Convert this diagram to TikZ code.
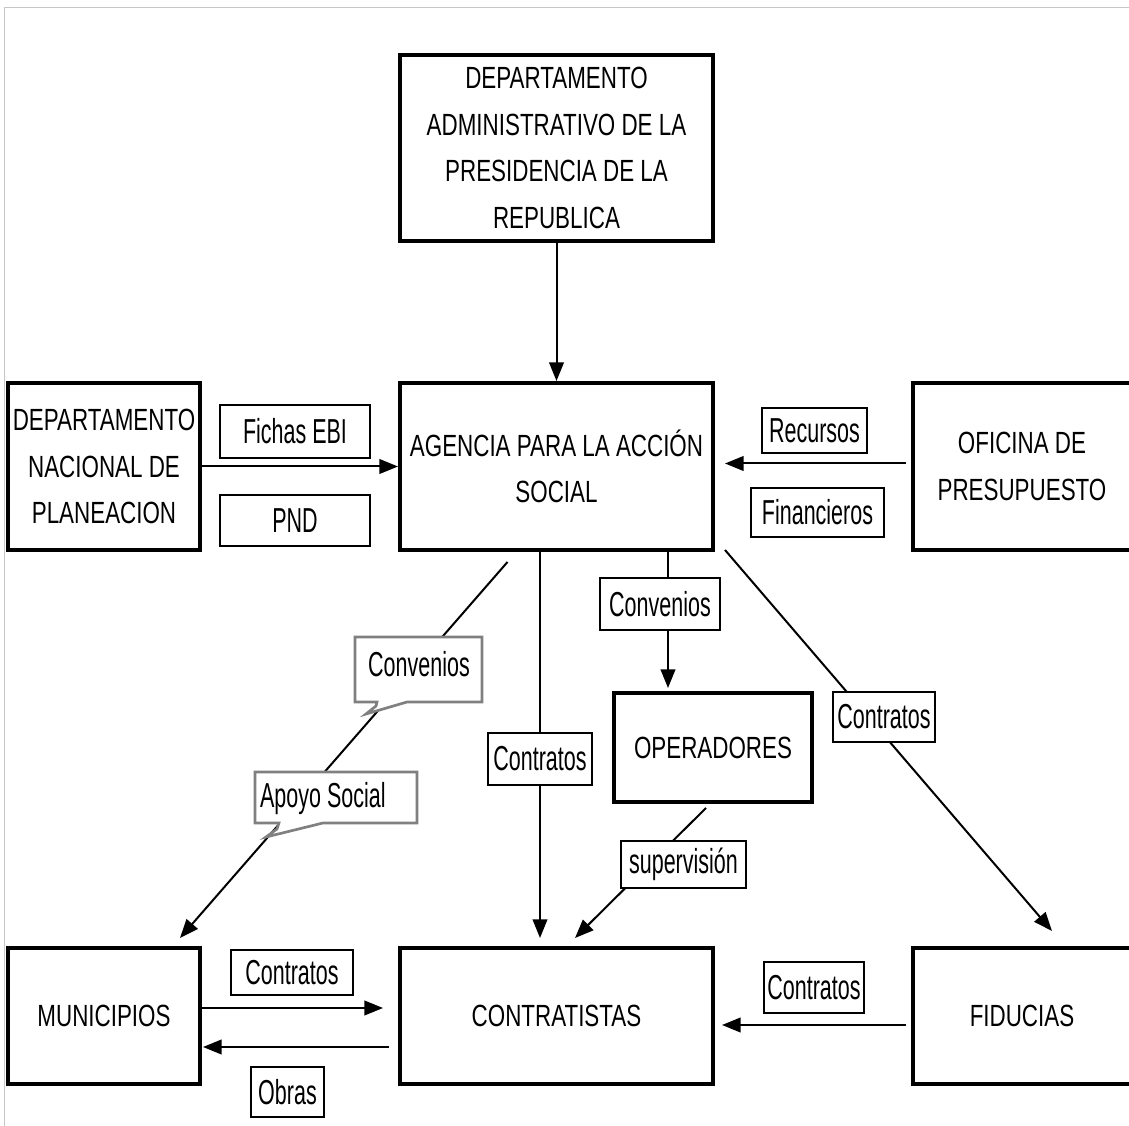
\documentclass[tikz,border=0pt]{standalone}
\usepackage{fontspec}
\setmainfont{Liberation Sans}
\newfontfamily\cajafont{Liberation Sans}[FakeStretch=0.73]
\newfontfamily\etqfont{Liberation Sans}[FakeStretch=0.62]
\usetikzlibrary{arrows.meta,calc}

\tikzset{
	caja/.style={draw,line width=3pt,inner sep=2pt,align=center,font=\cajafont\fontsize{23}{35}\selectfont},
	etiqueta/.style={draw,fill=white,line width=1.2pt,inner sep=1pt,font=\etqfont\fontsize{26}{30}\selectfont},
	flecha/.style={-{Triangle[length=14pt,width=11pt]},line width=1.5pt},
	globo/.style={draw=black!50,fill=white,line width=2pt,line join=miter},
}

\begin{document}
\begin{tikzpicture}[x=0.75pt,y=-0.75pt]
		\clip (0,0) rectangle (1129,1126);
		\fill[white] (0,0) rectangle (1129,1126);
		\draw[black!22,line width=0.75pt] (4,1126) -- (4,8) -- (1129,8);

		% cajas principales
		\node[caja,minimum width=234.75pt,minimum height=139.5pt] (dapr) at (556.5,148)
			{DEPARTAMENTO\\ADMINISTRATIVO DE LA\\PRESIDENCIA DE LA\\REPUBLICA};
		\node[caja,minimum width=234.75pt,minimum height=125.25pt] (agencia) at (556.5,466.5)
			{AGENCIA PARA LA ACCIÓN\\SOCIAL};
		\node[caja,minimum width=144pt,minimum height=125.25pt] (dnp) at (104,466.5)
			{DEPARTAMENTO\\NACIONAL DE\\PLANEACION};
		\node[caja,minimum width=163.5pt,minimum height=125.25pt] (oficina) at (1022,466.5)
			{OFICINA DE\\PRESUPUESTO};
		\node[caja,minimum width=148.5pt,minimum height=81.75pt] (operadores) at (713,747.5) {OPERADORES};
		\node[caja,minimum width=144pt,minimum height=102pt] (municipios) at (104,1016) {MUNICIPIOS};
		\node[caja,minimum width=234.75pt,minimum height=102pt] (contratistas) at (556.5,1016) {CONTRATISTAS};
		\node[caja,minimum width=163.5pt,minimum height=102pt] (fiducias) at (1022,1016) {FIDUCIAS};

		% flechas
		\draw[flecha] (dapr) -- (agencia);
		\draw[flecha] (dnp.east) -- (agencia.west);
		\draw[flecha] ($(oficina.west)+(-5,-3)$) -- ($(agencia.east)+(10,-3)$);
		\draw[flecha] ($(agencia.south)+(-49,10)$) -- ($(municipios.north)+(76,-8)$);
		\draw[flecha] ($(agencia.south)+(-16.5,0)$) -- ($(contratistas.north)+(-16.5,-8)$);
		\draw[flecha] ($(agencia.south)+(111.5,0)$) -- ($(operadores.north)+(-45,-3)$);
		\draw[flecha] ($(agencia.south east)+(10,-2)$) -- ($(fiducias.north)+(30,-15)$);
		\draw[flecha] ($(operadores.south)+(-7,4)$) -- ($(contratistas.north)+(18.5,-8)$);
		\draw[flecha] ($(municipios.east)+(0,-8)$) -- ($(contratistas.west)+(-15,-8)$);
		\draw[flecha] ($(contratistas.west)+(-9,31)$) -- ($(municipios.east)+(1,31)$);
		\draw[flecha] ($(fiducias.west)+(-5,9)$) -- ($(contratistas.east)+(7,9)$);

		% etiquetas
		\node[etiqueta,minimum width=112.5pt,minimum height=39.75pt] (fichas) at (295,431.5) {Fichas EBI};
		\node[etiqueta,minimum width=112.5pt,minimum height=38.25pt] (pnd) at (295,520.5) {PND};
		\node[etiqueta,minimum width=78.75pt,minimum height=33.75pt] (recursos) at (814.5,430.5) {Recursos};
		\node[etiqueta,minimum width=99.75pt,minimum height=36.75pt] (financieros) at (817.5,512.5) {Financieros};
		\node[etiqueta,minimum width=90pt,minimum height=39pt] (convop) at (660,604) {Convenios};
		\node[etiqueta,minimum width=78pt,minimum height=39pt] (contcen) at (540,759) {Contratos};
		\node[etiqueta,minimum width=76.5pt,minimum height=37.5pt] (contder) at (884,717) {Contratos};
		\node[etiqueta,minimum width=93.75pt,minimum height=35.25pt] (superv) at (683.5,864.5) {supervisión};
		\node[etiqueta,minimum width=91.5pt,minimum height=33.75pt] (contmun) at (292,972.5) {Contratos};
		\node[etiqueta,minimum width=54.75pt,minimum height=37.5pt] (obras) at (287.5,1092) {Obras};
		\node[etiqueta,minimum width=75pt,minimum height=38.25pt] (contfid) at (814,987.5) {Contratos};

		% globos
		\draw[globo] (355,637) -- (482,637) -- (482,702) -- (407,702) -- (366,714) -- (376,706) -- (377,702) -- (355,702) -- cycle;
		\node[etiqueta,draw=none,fill=none] (convmun) at (419,664) {Convenios};
		\draw[globo] (255,772) -- (417,772) -- (417,823) -- (323,823) -- (266,837) -- (277,829) -- (279,823) -- (255,823) -- cycle;
		\node[etiqueta,draw=none,fill=none,anchor=west] (apoyo) at (258,799) {Apoyo Social};
\end{tikzpicture}
\end{document}
